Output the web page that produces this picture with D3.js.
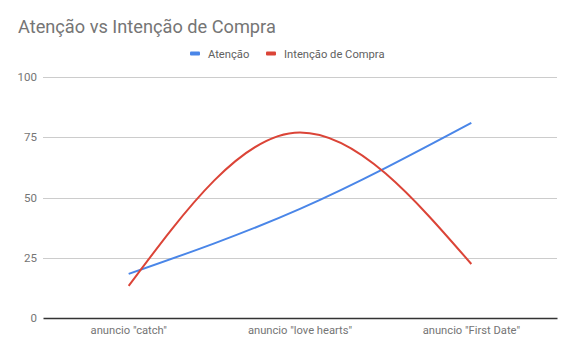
<!DOCTYPE html>
<html>
<head>
<meta charset="utf-8">
<script src="https://cdn.jsdelivr.net/npm/d3@7"></script>
<style>
	body { margin: 0; background: #fff; }
	text { font-family: Roboto, sans-serif; }
</style>
</head>
<body>
<div id="chart"></div>
<script>
// chart data
let categories = ['anuncio "catch"', 'anuncio "love hearts"', 'anuncio "First Date"'];
let atencao = [18.3, 45.3, 81];
let intencao = [13.3, 77, 22.4];
let yTicks = [0, 25, 50, 75, 100];
let seriesNames = ["Atenção", "Intenção de Compra"];
let seriesColors = ["#4a86e8", "#db4437"];

let width = 575, height = 353;
let margin = {top: 77, right: 18, bottom: 35, left: 43};

let svg = d3.select("#chart").append("svg")
	.attr("width", width)
	.attr("height", height);

let xScale = d3.scaleBand()
	.domain(categories)
	.range([margin.left, width - margin.right]);

let yScale = d3.scaleLinear()
	.domain([0, 100])
	.range([height - margin.bottom, margin.top]);

// title
svg.append("text")
	.attr("x", 18)
	.attr("y", 33)
	.attr("fill", "#757575")
	.style("font-size", "18.2px")
	.text("Atenção vs Intenção de Compra");

// gridlines
svg.append("g")
	.selectAll("line")
	.data(yTicks.filter(d => d > 0))
	.enter()
	.append("line")
	.attr("x1", margin.left)
	.attr("x2", width - margin.right)
	.attr("y1", d => Math.round(yScale(d)) + 0.5)
	.attr("y2", d => Math.round(yScale(d)) + 0.5)
	.attr("stroke", "#cccccc");

// y axis labels
let yAxis = d3.axisLeft(yScale).tickValues(yTicks).tickSize(0).tickPadding(6);
let yg = svg.append("g")
	.attr("transform", "translate(" + margin.left + ",0)")
	.call(yAxis);
yg.select(".domain").remove();
yg.selectAll("text")
	.attr("fill", "#757575")
	.style("font-size", "11.5px");

// x axis
let xAxis = d3.axisBottom(xScale).tickSize(0).tickPadding(8);
let xg = svg.append("g")
	.attr("transform", "translate(0," + (height - margin.bottom) + ")")
	.call(xAxis);
xg.select(".domain")
	.attr("stroke", "#333333")
	.attr("stroke-width", 1.5);
xg.selectAll("text")
	.attr("fill", "#757575")
	.style("font-size", "11.2px");

// lines
let line = d3.line()
	.x((d, i) => xScale(categories[i]) + xScale.bandwidth() / 2)
	.y(d => yScale(d))
	.curve(d3.curveMonotoneX);

[atencao, intencao].forEach((series, k) => {
	svg.append("path")
		.datum(series)
		.attr("fill", "none")
		.attr("stroke", seriesColors[k])
		.attr("stroke-width", 2)
		.attr("d", line);
});

// legend
let legendX = [190, 266];
let legend = svg.append("g");
seriesNames.forEach((name, k) => {
	legend.append("rect")
		.attr("x", legendX[k])
		.attr("y", 51.5)
		.attr("width", 10)
		.attr("height", 4)
		.attr("rx", 1)
		.attr("fill", seriesColors[k]);
	legend.append("text")
		.attr("x", legendX[k] + 18)
		.attr("y", 57.5)
		.attr("fill", "#616161")
		.style("font-size", "11.2px")
		.text(name);
});
</script>
</body>
</html>
